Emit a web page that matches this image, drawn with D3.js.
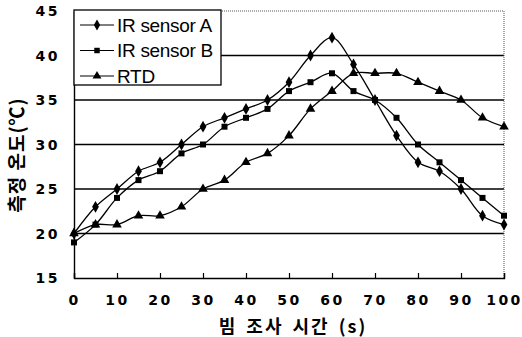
<!DOCTYPE html>
<html>
<head>
<meta charset="utf-8">
<script src="https://cdn.jsdelivr.net/npm/d3@7"></script>
<style>
  body { margin: 0; background: #fff; }
  svg { display: block; }
</style>
</head>
<body>
<svg id="chart" width="522" height="337"></svg>
<script>
// time (s) every 5 seconds
const times = [0, 5, 10, 15, 20, 25, 30, 35, 40, 45, 50, 55, 60, 65, 70, 75, 80, 85, 90, 95, 100];
const sensorA = [20, 23, 25, 27, 28, 30, 32, 33, 34, 35, 37, 40, 42, 39, 35, 31, 28, 27, 25, 22, 21];
const sensorB = [19, 21, 24, 26, 27, 29, 30, 32, 33, 34, 36, 37, 38, 36, 35, 33, 30, 28, 26, 24, 22];
const rtd = [20, 21, 21, 22, 22, 23, 25, 26, 28, 29, 31, 34, 36, 38, 38, 38, 37, 36, 35, 33, 32];
const seriesNames = ['IR sensor A', 'IR sensor B', 'RTD'];
const xTicks = [0, 10, 20, 30, 40, 50, 60, 70, 80, 90, 100];
const yTicks = [15, 20, 25, 30, 35, 40, 45];

const svg = d3.select('#chart');
const plotL = 74, plotR = 504, plotT = 11, plotB = 278;

const x = d3.scaleLinear().domain([0, 100]).range([plotL, plotR]);
const y = d3.scaleLinear().domain([15, 45]).range([plotB, plotT]);

// gridlines
svg.append('g')
   .selectAll('line')
   .data(yTicks.filter((t) => t > 15 && t < 45))
   .enter()
   .append('line')
   .attr('x1', plotL).attr('x2', plotR)
   .attr('y1', (t) => y(t)).attr('y2', (t) => y(t))
   .attr('stroke', '#000')
   .attr('stroke-width', 1.4);

// dotted top and right border
svg.append('path')
   .attr('d', `M${plotL},${plotT}H${plotR}V${plotB}`)
   .attr('fill', 'none')
   .attr('stroke', '#555')
   .attr('stroke-width', 1)
   .attr('stroke-dasharray', '1,1');

// axes
const yAxis = d3.axisLeft(y).tickValues(yTicks).tickSize(0).tickPadding(14);
const xAxis = d3.axisBottom(x).tickValues(xTicks).tickSize(-5).tickPadding(16);

const gy = svg.append('g').attr('transform', `translate(${plotL},0)`).call(yAxis);
const gx = svg.append('g').attr('transform', `translate(0,${plotB})`).call(xAxis);

[gx, gy].forEach((g) => {
  g.select('.domain').attr('stroke', '#000').attr('stroke-width', 1.4);
  g.selectAll('.tick line').attr('stroke', '#000').attr('stroke-width', 1.2);
  g.selectAll('.tick text')
   .attr('fill', '#000')
   .style('font-family', 'DejaVu Sans')
   .style('font-weight', 'bold')
   .style('font-size', '14px')
   .style('letter-spacing', '2.5px');
});
gy.selectAll('.tick text').attr('dy', '0.35em');
gx.selectAll('.tick text').attr('dy', '0.8em');

// axis titles
svg.append('text')
   .attr('x', 293).attr('y', 333)
   .attr('text-anchor', 'middle')
   .style('font-family', 'Noto Sans CJK KR')
   .style('font-weight', 'bold')
   .style('font-size', '18px')
   .style('letter-spacing', '2px')
   .style('word-spacing', '3px')
   .text('빔 조사 시간 (s)');

svg.append('text')
   .attr('transform', 'translate(24,155) rotate(-90)')
   .attr('text-anchor', 'middle')
   .style('font-family', 'Noto Sans CJK KR')
   .style('font-weight', 'bold')
   .style('font-size', '19px')
   .style('letter-spacing', '1px')
   .text('측정 온도(℃)');

// series
const series = [
  { name: seriesNames[0], values: sensorA, symbol: d3.symbolDiamond, size: 40 },
  { name: seriesNames[1], values: sensorB, symbol: d3.symbolSquare, size: 36 },
  { name: seriesNames[2], values: rtd, symbol: d3.symbolTriangle, size: 40 },
];

const line = d3.line()
  .x((d) => x(d.t))
  .y((d) => y(d.v))
  .curve(d3.curveCatmullRom.alpha(0.5));

series.forEach((s) => {
  const pts = times.map((t, i) => ({ t: t, v: s.values[i] }));
  svg.append('path')
     .datum(pts)
     .attr('d', line)
     .attr('fill', 'none')
     .attr('stroke', '#000')
     .attr('stroke-width', 1.3);
  svg.append('g')
     .selectAll('path')
     .data(pts)
     .enter()
     .append('path')
     .attr('transform', (d) => `translate(${x(d.t)},${y(d.v)})`)
     .attr('d', d3.symbol().type(s.symbol).size(s.size))
     .attr('fill', '#000');
});

// legend
const legend = svg.append('g');
legend.append('rect')
      .attr('x', 74).attr('y', 10)
      .attr('width', 147).attr('height', 75)
      .attr('fill', '#fff')
      .attr('stroke', '#000')
      .attr('stroke-width', 1.3);

const items = legend.selectAll('g.item')
  .data(series)
  .enter()
  .append('g')
  .attr('transform', (s, i) => `translate(0,${25 + i * 25.5})`);

items.append('line')
     .attr('x1', 80).attr('x2', 114)
     .attr('stroke', '#000').attr('stroke-width', 1.2);
items.append('path')
     .attr('transform', 'translate(97,0)')
     .attr('d', (s) => d3.symbol().type(s.symbol).size(s.size - 6)())
     .attr('fill', '#000');
items.append('text')
     .attr('x', 117).attr('dy', '0.36em')
     .style('font-family', 'Liberation Sans')
     .style('font-size', '19px')
     .style('letter-spacing', '-0.3px')
     .text((s) => s.name);
</script>
</body>
</html>
